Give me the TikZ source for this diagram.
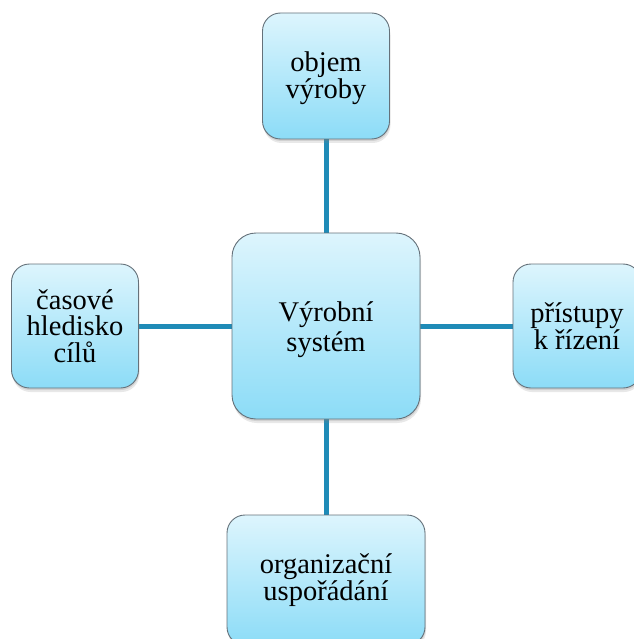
\documentclass[tikz,border=0pt]{standalone}
\usepackage{fontspec}
\setmainfont{Liberation Serif}
\usetikzlibrary{shadows}
\definecolor{boxtop}{HTML}{DDF5FD}
\definecolor{boxbot}{HTML}{8CDCF7}
\definecolor{boxedge}{HTML}{65717A}
\definecolor{linkblue}{HTML}{1F8BB7}
\tikzset{
  block/.style={rectangle, rounded corners=#1, draw=boxedge, line width=0.9pt,
    top color=boxtop, bottom color=boxbot, align=center, inner sep=0pt,
    font=\fontsize{28.5}{26.5}\selectfont,
    drop shadow={opacity=0.18, shadow xshift=1pt, shadow yshift=-4pt},
    drop shadow={opacity=0.22, shadow xshift=0.5pt, shadow yshift=-2pt}},
  block/.default=18pt,
  caption/.style={align=center, inner sep=0pt, yshift=-#1},
  link/.style={draw=linkblue, line width=5pt}
}
\begin{document}
\begin{tikzpicture}[x=1pt,y=-1pt]
  \useasboundingbox (0,0) rectangle (633,639);
  % links go underneath the boxes
  \coordinate (c) at (326,326);
  \coordinate (ctop) at (326,76);
  \coordinate (cleft) at (75,326);
  \coordinate (cright) at (577,326);
  \coordinate (cbot) at (326,580);
  \draw[link] (c) -- (ctop);
  \draw[link] (c) -- (cleft);
  \draw[link] (c) -- (cright);
  \draw[link] (c) -- (cbot);
  % boxes
  \node[block=24pt, minimum width=188pt, minimum height=186pt,
        label={[caption=4pt, font=\fontsize{28.5}{30}\selectfont]center:Výrobní\\systém}] (sys) at (c) {};
  \node[block, minimum width=127pt, minimum height=126pt,
        label={[caption=2pt, font=\fontsize{28.5}{26.5}\selectfont]center:objem\\výroby}] (obj) at (ctop) {};
  \node[block, minimum width=127pt, minimum height=124pt] (cas) at (cleft) {časové\\hledisko\\cílů};
  \node[block, minimum width=128pt, minimum height=124pt] (pri) at (cright) {přístupy\\k řízení};
  \node[block, minimum width=198pt, minimum height=130pt] (org) at (cbot) {organizační\\uspořádání};
\end{tikzpicture}
\end{document}
